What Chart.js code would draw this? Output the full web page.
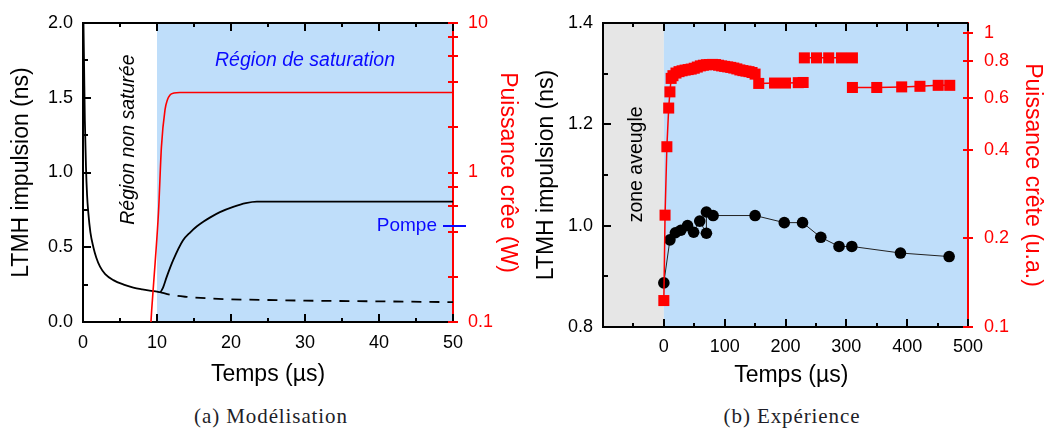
<!DOCTYPE html>
<html><head><meta charset="utf-8">
<script src="https://cdn.jsdelivr.net/npm/chart.js@4/dist/chart.umd.min.js"></script>
<style>
html,body{margin:0;padding:0;background:#fff;width:1046px;height:430px;overflow:hidden;position:relative}
canvas{position:absolute;top:0}
#ca{left:0}
#cb{left:523px}
.cap{position:absolute;top:405px;line-height:22px;font-family:'Liberation Serif','Times New Roman',serif;font-size:21px;letter-spacing:0.9px;color:#1e1e28;white-space:nowrap;transform:translateX(-50%)}
</style></head><body>
<canvas id="ca" width="523" height="390"></canvas>
<canvas id="cb" width="523" height="390"></canvas>
<div class="cap" style="left:271px">(a) Modélisation</div>
<div class="cap" style="left:792px">(b) Expérience</div>
<script>
// ---------- (a) Modélisation ----------
const modTime  = [0.05,0.15,0.25,0.4,0.55,0.72,1.0,1.4,1.8,2.3,3.0,4.1,5.5,6.8,8.0,9.0,10.0,10.4,10.8,11.3,12.2,13.5,14.5,15.4,16.3,17.2,18.5,20.3,22.0,23.5,50];
const modWidth = [2.05,1.7,1.35,1.04,0.85,0.73,0.6,0.5,0.43,0.37,0.32,0.28,0.25,0.23,0.218,0.21,0.203,0.2,0.228,0.30,0.415,0.545,0.60,0.64,0.672,0.70,0.735,0.77,0.795,0.805,0.805];
const modDashTime  = [10.4,12,14,17,20,25,30,40,50];
const modDashWidth = [0.2,0.18,0.168,0.158,0.152,0.147,0.143,0.138,0.133];
const modPowTime  = [9.0,9.28,9.75,10.2,10.6,11.08,11.4,11.76,12.3,13.1,50];
const modPowValue = [0.07,0.12,0.25,0.54,1.49,2.62,3.05,3.30,3.40,3.43,3.43];
const modPump = 0.44;
const modSatStart = 10, modSatEnd = 50;
const modXTicks = [0,5,10,15,20,25,30,35,40,45,50];
const modXLabels = [0,10,20,30,40,50];
const modYTicks = [0,0.25,0.5,0.75,1,1.25,1.5,1.75,2];
const modYLabels = [0,0.5,1,1.5,2];
const modY2Ticks = [0.1,0.2,0.4,0.6,0.8,1,2,4,6,8,10];
const modY2Labels = [0.1,1,10];

// ---------- (b) Expérience ----------
const expWidthTime  = [0,10,19,28,39,49,59,70,70,81,150,198,228,258,288,309,389,469];
const expWidthValue = [0.887,0.972,0.986,0.991,1.0,0.987,1.009,0.985,1.027,1.02,1.02,1.006,1.006,0.977,0.959,0.959,0.946,0.939];
const expPowTime  = [0,2,5,8,10,12,15,20,25,30,35,40,45,50,55,60,65,70,75,80,85,90,95,100,105,110,115,120,125,130,135,140,145,150,156,182,200,221,229,230,231,251,271,292,310,310,310,350,391,421,451,470];
const expPowValue = [0.123,0.24,0.41,0.555,0.63,0.70,0.715,0.73,0.738,0.743,0.747,0.75,0.753,0.758,0.765,0.772,0.776,0.779,0.78,0.781,0.78,0.776,0.772,0.769,0.766,0.763,0.759,0.754,0.748,0.744,0.741,0.738,0.733,0.724,0.673,0.675,0.675,0.677,0.678,null,0.822,0.822,0.822,0.822,0.822,null,0.652,0.652,0.655,0.658,0.663,0.663];
const expBlindStart = -100, expBlindEnd = 0, expEnd = 500;
const expXTicks = [-100,-50,0,50,100,150,200,250,300,350,400,450,500];
const expXLabels = [0,100,200,300,400,500];
const expYTicks = [0.8,0.9,1.0,1.1,1.2,1.3,1.4];
const expYLabels = [0.8,1.0,1.2,1.4];
const expY2Ticks = [0.1,0.2,0.4,0.6,0.8,1];
const expY2Labels = [0.1,0.2,0.4,0.6,0.8,1];

const SANS = "'Liberation Sans', Arial, sans-serif";
const BLUE_BG = '#bfdefa', GREY_BG = '#e6e6e6', RED = '#ff0000', BLUE_TXT = '#0a0aff';
Chart.defaults.font.family = SANS;
Chart.defaults.color = '#000';

const zip = (xs, ys) => xs.map((x, i) => ({x, y: ys[i]}));
const has = (arr, v) => arr.some(a => Math.abs(a - v) < 1e-9);
const setTicks = vals => s => { s.ticks = vals.map(v => ({value: v})); };
const noPad = s => { s.paddingTop = 0; s.paddingBottom = 0; s.paddingLeft = 0; s.paddingRight = 0; };

function framePlugin(opt) {
  return {
    id: 'frame',
    beforeDraw(chart) {
      const {ctx, chartArea: a, scales: {x}} = chart;
      ctx.save();
      opt.regions.forEach(r => {
        const x0 = Math.max(a.left, x.getPixelForValue(r.from));
        const x1 = Math.min(a.right, x.getPixelForValue(r.to));
        ctx.fillStyle = r.color;
        ctx.fillRect(x0, a.top, x1 - x0, a.bottom - a.top);
      });
      ctx.restore();
    },
    afterDraw(chart) {
      const {ctx, chartArea: a, scales: {x, y, y2}} = chart;
      ctx.save();
      ctx.fillStyle = '#000';
      const L0 = Math.round(a.left), R0 = Math.round(a.right), T0 = Math.round(a.top), B0 = Math.round(a.bottom);
      ctx.fillRect(L0 - 1, T0 - 1, R0 - L0 + 1, 2);
      x.ticks.forEach(t => {
        const p = Math.round(x.getPixelForValue(t.value));
        const L = t.label !== '' ? 8 : 4;
        ctx.fillRect(p - 1, B0 - L, 2, L);
        ctx.fillRect(p - 1, T0, 2, L);
      });
      y.ticks.forEach(t => {
        const p = Math.round(y.getPixelForValue(t.value));
        const L = t.label !== '' ? 8 : 5;
        ctx.fillRect(L0, p - 1, L, 2);
      });
      ctx.fillStyle = RED;
      y2.ticks.forEach(t => {
        const p = Math.round(y2.getPixelForValue(t.value));
        ctx.fillRect(R0 - 5, p - 1, 10, 2);
      });
      if (opt.pump != null) {
        const p = Math.round(y2.getPixelForValue(opt.pump));
        ctx.fillStyle = BLUE_TXT;
        ctx.fillRect(R0 - 10, p - 1, 23, 2);
        ctx.font = '19px ' + SANS;
        ctx.textAlign = 'right'; ctx.textBaseline = 'middle';
        ctx.fillText('Pompe', R0 - 16, p);
      }
      opt.texts.forEach(tx => {
        const px = x.getPixelForValue(tx.x);
        const py = chart.scales[tx.axis].getPixelForValue(tx.y);
        ctx.save();
        ctx.translate(px, py);
        ctx.rotate(tx.rot * Math.PI / 180);
        ctx.fillStyle = tx.color; ctx.font = tx.font;
        ctx.textAlign = 'center'; ctx.textBaseline = 'middle';
        ctx.fillText(tx.text, 0, 0);
        ctx.restore();
      });
      ctx.restore();
    }
  };
}

function makeChart(id, p) {
  return new Chart(document.getElementById(id), {
    type: 'line',
    data: {datasets: p.datasets},
    options: {
      responsive: false, animation: false, devicePixelRatio: 1,
      layout: {padding: {top: p.top, left: 0, right: 0, bottom: 0}},
      plugins: {legend: {display: false}, tooltip: {enabled: false}},
      elements: {line: {cubicInterpolationMode: 'monotone'}},
      scales: {
        x: {
          type: 'linear', min: p.xMin, max: p.xMax,
          afterBuildTicks: setTicks(p.xTicks), afterFit: s => { s.height = p.xH; noPad(s); },
          ticks: {callback: v => has(p.xLabels, v) ? String(v) : '', padding: p.xPad, font: {size: 18}, maxRotation: 0, autoSkip: false},
          grid: {display: false, drawTicks: false}, border: {display: true, color: '#000', width: 2},
          title: {display: true, text: p.xTitle, font: {size: 23}, padding: {top: 0, bottom: p.xTitlePad}}
        },
        y: {
          type: 'linear', position: 'left', min: p.yMin, max: p.yMax,
          afterBuildTicks: setTicks(p.yTicks), afterFit: s => { s.width = p.yW; noPad(s); },
          ticks: {callback: v => has(p.yLabels, v) ? v.toFixed(1) : '', padding: 10, font: {size: 18}, autoSkip: false},
          grid: {display: false, drawTicks: false}, border: {display: true, color: '#000', width: 2},
          title: {display: true, text: 'LTMH impulsion (ns)', font: {size: 23}, padding: {top: p.yTitlePad, bottom: 0}}
        },
        y2: {
          type: 'logarithmic', position: 'right', min: 0.1, max: p.y2Max,
          afterBuildTicks: setTicks(p.y2Ticks), afterFit: s => { s.width = p.y2W; noPad(s); },
          ticks: {callback: v => has(p.y2Labels, v) ? String(v) : '', color: RED, padding: p.y2Pad, font: {size: 18}, autoSkip: false},
          grid: {display: false, drawTicks: false}, border: {display: true, color: RED, width: 2},
          title: {display: true, text: p.y2Title, color: RED, font: {size: 23}, padding: {top: p.y2TitlePad, bottom: 0}}
        }
      }
    },
    plugins: [framePlugin(p.frame)]
  });
}

makeChart('ca', {
  datasets: [
    {label: 'Puissance crête', data: zip(modPowTime, modPowValue), yAxisID: 'y2', borderColor: RED, borderWidth: 1.6, pointRadius: 0, order: 0},
    {label: 'LTMH impulsion', data: zip(modTime, modWidth), yAxisID: 'y', borderColor: '#000', borderWidth: 1.8, pointRadius: 0, order: 1},
    {label: 'LTMH non saturée', data: zip(modDashTime, modDashWidth), yAxisID: 'y', borderColor: '#000', borderWidth: 1.8, borderDash: [10, 8], pointRadius: 0, order: 2}
  ],
  top: 23, xMin: 0, xMax: 50, xTicks: modXTicks, xLabels: modXLabels, xH: 68, xPad: 10.5, xTitle: 'Temps (µs)', xTitlePad: 2,
  yMin: 0, yMax: 2, yTicks: modYTicks, yLabels: modYLabels, yW: 83, yTitlePad: 8,
  y2Max: 10, y2Ticks: modY2Ticks, y2Labels: modY2Labels, y2W: 70, y2Pad: 15, y2Title: 'Puissance crêe (W)', y2TitlePad: 2,
  frame: {
    regions: [{from: modSatStart, to: modSatEnd, color: BLUE_BG}],
    pump: modPump,
    texts: [
      {text: 'Région de saturation', x: 30, y: 1.75, axis: 'y', rot: 0, color: BLUE_TXT, font: 'italic 19.5px ' + SANS},
      {text: 'Région non saturée', x: 6.1, y: 1.22, axis: 'y', rot: -90, color: '#000', font: 'italic 19.5px ' + SANS}
    ]
  }
});

makeChart('cb', {
  datasets: [
    {label: 'Puissance crête', data: zip(expPowTime, expPowValue), yAxisID: 'y2', borderColor: RED, borderWidth: 1.5, backgroundColor: RED,
     pointStyle: 'rect', pointRadius: 7.8, pointBorderWidth: 0, spanGaps: false, cubicInterpolationMode: 'default', tension: 0, order: 0},
    {label: 'LTMH impulsion', data: zip(expWidthTime, expWidthValue), yAxisID: 'y', borderColor: '#222', borderWidth: 1, backgroundColor: '#000',
     pointStyle: 'circle', pointRadius: 5.8, pointBorderWidth: 0, cubicInterpolationMode: 'default', tension: 0, order: 1}
  ],
  top: 23, xMin: -100, xMax: 500, xTicks: expXTicks, xLabels: expXLabels, xH: 63, xPad: 9, xTitle: '\u2002Temps (µs)', xTitlePad: 1,
  yMin: 0.8, yMax: 1.4, yTicks: expYTicks, yLabels: expYLabels, yW: 80, yTitlePad: 10,
  y2Max: 1.08, y2Ticks: expY2Ticks, y2Labels: expY2Labels, y2W: 78, y2Pad: 16, y2Title: 'Puissance crête (u.a.)', y2TitlePad: 0,
  frame: {
    regions: [{from: expBlindStart, to: expBlindEnd, color: GREY_BG}, {from: expBlindEnd, to: expEnd, color: BLUE_BG}],
    pump: null,
    texts: [
      {text: 'zone aveugle', x: -45, y: 1.121, axis: 'y', rot: -90, color: '#000', font: '19.5px ' + SANS}
    ]
  }
});
</script>
</body></html>
